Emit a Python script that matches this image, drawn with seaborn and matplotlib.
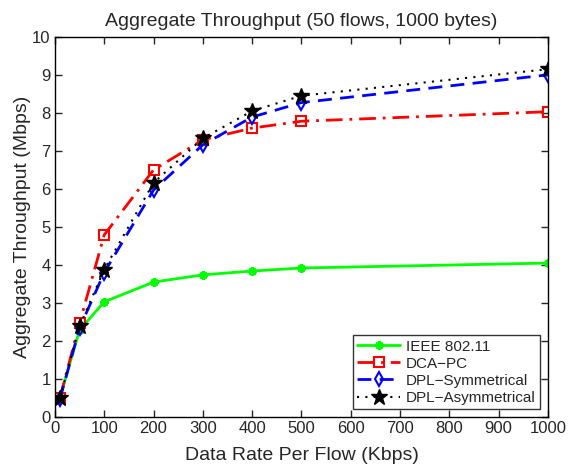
import matplotlib
matplotlib.use("Agg")
import matplotlib.pyplot as plt
import seaborn as sns
import pandas as pd

rates = [10, 50, 100, 200, 300, 400, 500, 1000]
ieee = [0.5, 2.29, 3.03, 3.55, 3.74, 3.84, 3.92, 4.05]
dca = [0.5, 2.47, 4.79, 6.5, 7.29, 7.6, 7.78, 8.03]
dpl_sym = [0.47, 2.34, 3.8, 5.97, 7.16, 7.89, 8.27, 9.0]
dpl_asym = [0.5, 2.39, 3.88, 6.16, 7.33, 8.05, 8.45, 9.15]
names = ["IEEE 802.11", "DCA\u2212PC", "DPL\u2212Symmetrical", "DPL\u2212Asymmetrical"]
xticks = [0, 100, 200, 300, 400, 500, 600, 700, 800, 900, 1000]
yticks = list(range(0, 11))

sns.set_style("ticks")
plt.rcParams['font.family'] = ['Liberation Sans', 'DejaVu Sans']

fig = plt.figure(figsize=(5.72, 4.66), dpi=100)
ax = fig.add_axes([0.096, 0.105, 0.862, 0.816])

styles = [
    dict(color=(0, 1, 0), linestyle='-', marker=(8, 2, 0), markersize=6, mew=1.8, mfc=(0, 1, 0), mec=(0, 1, 0), linewidth=2),
    dict(color=(1, 0, 0), linestyle=(0, (6, 2.5, 1, 2.5)), marker='s', markersize=7, mew=1.5, mfc='none', mec=(1, 0, 0), linewidth=2),
    dict(color=(0, 0, 1), linestyle=(0, (5, 3)), marker='d', markersize=7, mew=1.5, mfc='none', mec=(0, 0, 1), linewidth=2),
    dict(color='black', linestyle=(0, (1, 3)), marker='*', markersize=12, mew=1, mfc='black', mec='black', linewidth=1.5),
]
series = [ieee, dca, dpl_sym, dpl_asym]
for name, vals, st in zip(names, series, styles):
    df = pd.DataFrame({"x": rates, "y": vals})
    sns.lineplot(data=df, x="x", y="y", ax=ax, label=name, **st)

ax.set_xlim(0, 1000)
ax.set_ylim(0, 10)
ax.set_xticks(xticks)
ax.set_yticks(yticks)
ax.tick_params(direction='in', top=True, right=True, labelsize=12, length=5, width=1, pad=3)
for s in ax.spines.values():
    s.set_visible(True)
    s.set_linewidth(1)
    s.set_color('black')
ax.set_xlabel("Data Rate Per Flow (Kbps)", fontsize=14, labelpad=8)
ax.set_ylabel("Aggregate Throughput (Mbps)", fontsize=14, labelpad=1)
ax.set_title("Aggregate Throughput (50 flows, 1000 bytes)", fontsize=14, pad=8)
leg = ax.legend(loc='lower right', fontsize=11, frameon=True, fancybox=False,
                edgecolor='black', borderpad=0.3, labelspacing=0.2, handlelength=2.8,
                handletextpad=0.4, borderaxespad=0.5)
leg.get_frame().set_linewidth(1)
fig.savefig("out.png", dpi=100)
